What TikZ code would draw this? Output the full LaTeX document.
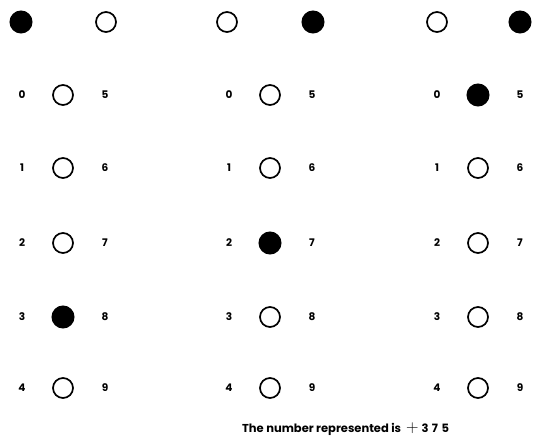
\documentclass[tikz,border=0pt]{standalone}
\usepackage{fontspec}
\setsansfont{Poppins}
\begin{document}
\begin{tikzpicture}[x=1pt,y=-1pt,
  hole/.style={circle,draw=black,line width=1.7pt,minimum size=20pt,inner sep=0pt},
  punched/.style={circle,fill=black,draw=black,line width=1pt,minimum size=22pt,inner sep=0pt},
  digit/.style={font=\sffamily\bfseries\fontsize{10.5}{11}\selectfont,inner sep=0pt},
  caption/.style={font=\sffamily\bfseries\fontsize{11.5}{13}\selectfont,inner sep=0pt,anchor=base west}]
\useasboundingbox (0,0) rectangle (533,443);
% top sign row
\node[punched] (s1a) at (21,22) {};
\node[hole] (s1b) at (106,22) {};
\node[hole] (s2a) at (227,22) {};
\node[punched] (s2b) at (313,22) {};
\node[hole] (s3a) at (437,22) {};
\node[punched] (s3b) at (520,22) {};
% digit columns
\foreach \c/\x/\f in {1/63/3, 2/270/2, 3/478/0}{
  \foreach \r/\y in {0/95,1/168,2/243,3/317,4/388}{
    \pgfmathtruncatemacro{\rr}{\r+5}
    \node[digit] (l\c\r) at (\x-41,\y) {\r};
    \node[digit] (r\c\r) at (\x+42,\y) {\rr};
    \ifnum\r=\f
      \node[punched] (h\c\r) at (\x,\y) {};
    \else
      \node[hole] (h\c\r) at (\x,\y) {};
    \fi
  }
}
\node[caption] (cap) at (242,433) {The number represented is\hspace{5pt}{\fontsize{18}{18}\selectfont$+$}\hspace{3pt}3\hspace{3.5pt}7\hspace{3.5pt}5};
\end{tikzpicture}
\end{document}
